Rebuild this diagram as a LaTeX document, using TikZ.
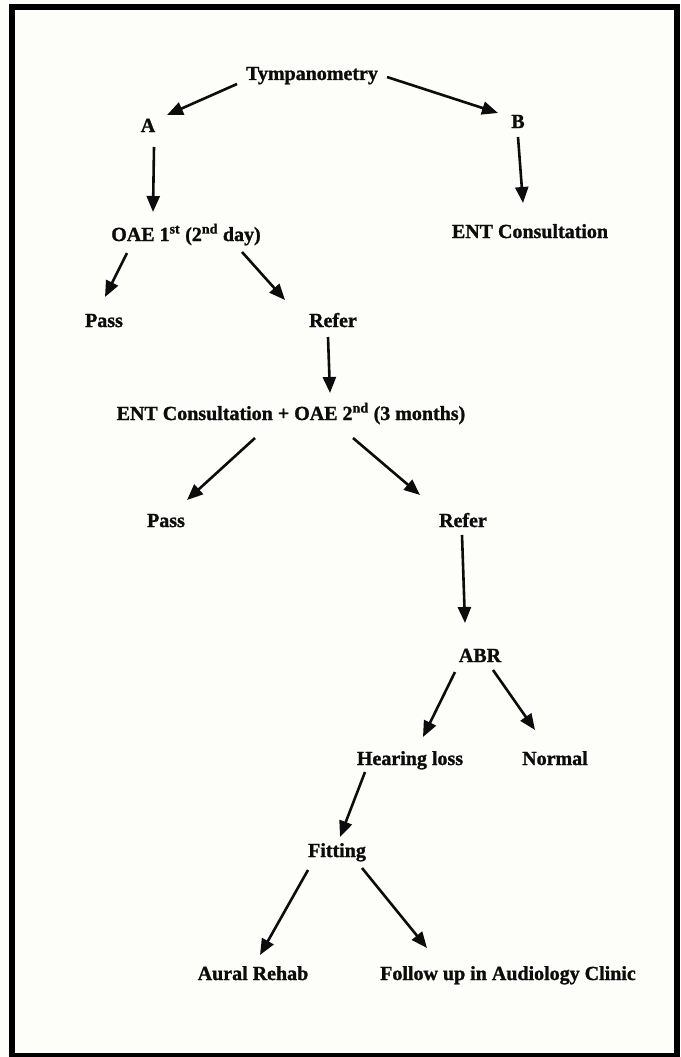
\documentclass[tikz,border=0pt]{standalone}
\usepackage{fontspec}
\setmainfont{Liberation Serif}[BoldFeatures={FakeBold=1.3}]
\usetikzlibrary{arrows.meta,calc}
\definecolor{paper}{RGB}{253,253,249}
\definecolor{ink}{RGB}{12,12,12}
\tikzset{
  lbl/.style={anchor=base,inner sep=0pt,text=ink,font=\fontsize{20}{24}\selectfont\bfseries},
  arr/.style={draw=ink,line width=2.6pt,-{Triangle[length=16pt,width=13pt]}},
  frame/.style={draw=black,line width=6pt}
}
\begin{document}
\begin{tikzpicture}[x=1pt,y=-1pt]
\useasboundingbox (0,0) rectangle (680,1057);
\fill[paper] (0,0) rectangle (680,1057);
\draw[frame] (12,7.5) rectangle (676.5,1056);
% nodes
\node[lbl] (tymp) at (312,80) {Tympanometry};
\node[lbl] (A) at (148,132) {A};
\node[lbl] (B) at (518,128) {B};
\node[lbl] (oae1) at (186,241) {OAE 1\textsuperscript{st} (2\textsuperscript{nd} day)};
\node[lbl] (ent1) at (530,238) {ENT Consultation};
\node[lbl] (pass1) at (104,327) {Pass};
\node[lbl] (refer1) at (333,327) {Refer};
\node[lbl] (ent2) at (291,420) {ENT Consultation + OAE 2\textsuperscript{nd} (3 months)};
\node[lbl] (pass2) at (166,527) {Pass};
\node[lbl] (refer2) at (463,527) {Refer};
\node[lbl] (abr) at (480,662) {ABR};
\node[lbl] (hl) at (410,765) {Hearing loss};
\node[lbl] (normal) at (555,765) {Normal};
\node[lbl] (fitting) at (337,857) {Fitting};
\node[lbl] (aural) at (253,980) {Aural Rehab};
\node[lbl,anchor=base west] (follow) at (380,980) {Follow up in Audiology Clinic};
% connectors
\draw[arr] ($(tymp.base)+(-75,4)$) -- ($(A.base)+(19,-17)$);
\draw[arr] ($(tymp.base)+(75,-3)$) -- ($(B.base)+(-20,-15)$);
\draw[arr] ($(A.base)+(6,15)$) -- ($(oae1.base)+(-33,-29)$);
\draw[arr] ($(B.base)+(0,9)$) -- ($(ent1.base)+(-7,-35)$);
\draw[arr] ($(oae1.base)+(-59,12)$) -- ($(pass1.base)+(1,-30)$);
\draw[arr] ($(oae1.base)+(56,11)$) -- ($(refer1.base)+(-48,-27)$);
\draw[arr] ($(refer1.base)+(-5,10)$) -- ($(ent2.base)+(39,-27)$);
\draw[arr] ($(ent2.base)+(-36,18)$) -- ($(pass2.base)+(21,-27)$);
\draw[arr] ($(ent2.base)+(62,18)$) -- ($(refer2.base)+(-43,-32)$);
\draw[arr] ($(refer2.base)+(-1,8)$) -- ($(abr.base)+(-15,-39)$);
\draw[arr] ($(abr.base)+(-25,10)$) -- ($(hl.base)+(13,-28)$);
\draw[arr] ($(abr.base)+(13,8)$) -- ($(normal.base)+(-20,-35)$);
\draw[arr] ($(hl.base)+(-45,7)$) -- ($(fitting.base)+(3,-20)$);
\draw[arr] ($(fitting.base)+(-29,13)$) -- ($(aural.base)+(7,-25)$);
\draw[arr] ($(fitting.base)+(25,11)$) -- ($(follow.base west)+(47,-32)$);
\end{tikzpicture}
\end{document}
